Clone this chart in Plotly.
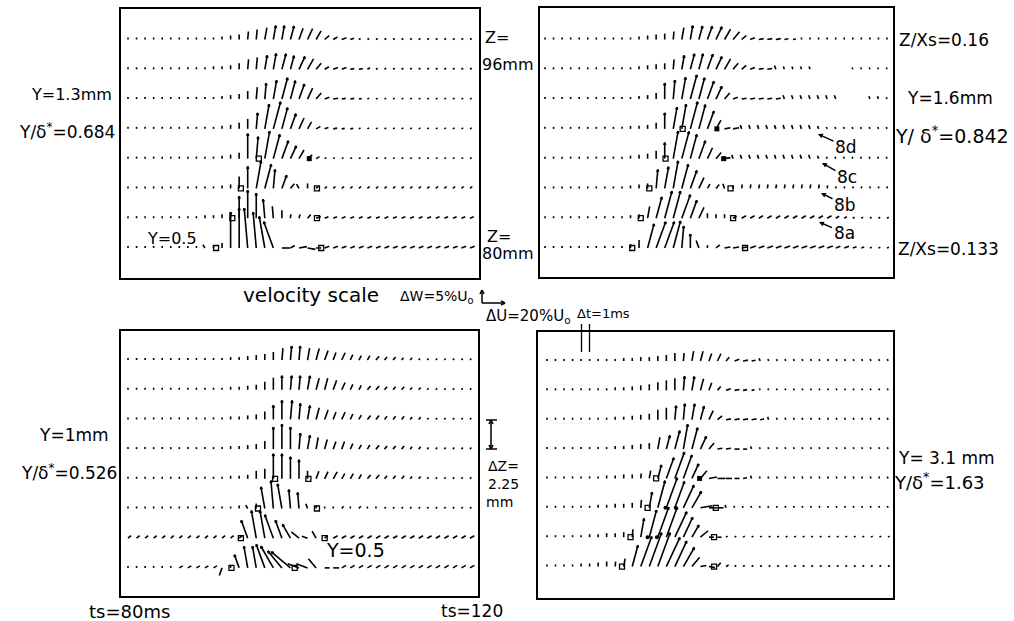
import math
import plotly.graph_objects as go

FIG_W, FIG_H = 1014, 621

# ---------------- data ----------------
TS = list(range(80, 121))                     # ts in ms, sample spacing Δt = 1 ms
Z_ROWS = [95.75, 93.5, 91.25, 89.0, 86.75, 84.5, 82.25, 80.0]   # Z (mm), top row to bottom row

# velocity scale of the figure: ΔW = 5 %U0 (vertical), ΔU = 20 %U0 (horizontal)
W_PX_PER_PCT = 13.0 / 5.0
U_PX_PER_PCT = 23.0 / 20.0

# vector magnitude classes (drawn length) and direction classes (deg from +W, positive toward +U)
LEN_CODE = {'0': 2.0, '1': 3, '2': 4, '3': 5, '4': 6, '5': 8, '6': 10, '7': 12, '8': 14, '9': 16,
            'A': 19, 'B': 22, 'C': 25, 'D': 28, 'E': 32, 'F': 36, 'G': 40}
ANG_CODE = {'a': -80, 'b': -70, 'c': -60, 'd': -50, 'e': -40, 'f': -30, 'g': -20, 'h': -10, 'i': -5,
            'j': 0, 'k': 5, 'l': 10, 'm': 15, 'n': 20, 'o': 25, 'p': 30, 'q': 40, 'r': 50, 's': 60,
            't': 70, 'u': 80, 'v': 90, 'w': 100, 'x': 110, 'X': 200}

# one string per row (41 samples, ts=80..120), '_' = no sample
TL_LEN = ["0000000000 0123567888 7764332000 0000000000 0",
          "0000000000 1124678998 8753332210 0000000000 0",
          "0000000000 0123579ABA 9753322100 0000000000 0",
          "0000000000 012469CDB9 7532211000 0000000000 0",
          "0000000000 0124CBDCA8 6420000000 0000000000 0",
          "0000000000 0127BDCA84 3311111111 1111111111 1",
          "0000000001 123BDCA752 2332222222 2222222222 2",
          "0000000002 13FGGFED53 5533333333 3333333333 3"]
TL_ANG = ["jjjjjjjjjj jjjjkklllm noprsttsss ssssssssss s",
          "jjjjjjjjjj jjjjkkllmm opqsttuuss ssssssssss s",
          "jjjjjjjjjj jjjjjkklmm noqtuuuuss ssssssssss s",
          "jjjjjjjjjj jjjjjklmmn opstuuusss ssssssssss s",
          "jjjjjjjjjj jjjjjklmno prssssssss ssssssssss s",
          "jjjjjjjjjj jjjjjlmknq fjrrrrrrrr rrrrrrrrrr r",
          "jjjjjjjjjj jjjjjjiijk mqtttttttt tttttttttt t",
          "jjjjjjjjjf jjjjiihgvs uwvttttttt tttttttttt t"]

TR_LEN = ["0000000000 0123457888 8764333321 0000000000 0",
          "0000000000 0123468999 8754333211 11____0000 0",
          "0000000000 01249ABCBA 8533333322 22222___11 0",
          "0000000000 11249BCDCA 6442222222 2210000000 0",
          "0000000000 12359DDCA7 5422222222 2210000000 0",
          "0000000000 123ABDCA73 3312222222 2221000000 0",
          "0000000000 127BDDCA73 2223333333 3333210000 0",
          "0000000000 25CDDDB851 3444444444 4444332100 0"]
TR_ANG = ["jjjjjjjjjj jjjjjkllmn opqrtuuuuu jjjjjjjjjj j",
          "jjjjjjjjjj jjjjjklmmn opqrtuuggg gggggggggg g",
          "jjjjjjjjjj jjjjjklmmn oqtuuuuugg gggggggggg g",
          "jjjjjjjjjj jjjjjllmmn puuggggggg gggggggggg g",
          "jjjjjjjjjj jjjjjlmmno qugggggggg gggggggggg g",
          "jjjjjjjjjj jjjkllmnop qgjlllllll llllllllll l",
          "jjjjjjjjjj jjlmmmnnoj jjssssssss ssssssssss s",
          "jjjjjjjjjj jjmnnmkjgj ruuutttttt tttttttttt t"]

BL_LEN = ["0000000000 0011234578 8776554333 2211000000 0",
          "0000000000 0011235788 8877654333 2221100000 0",
          "0000000000 00112358AA 9876554333 2221100000 0",
          "0000000000 0011235BCB 9876554333 2221100000 0",
          "0000000000 0011256CCB A555544333 2221100000 0",
          "0000000000 000123BDCA 9310010100 0000000000 0",
          "2222222222 2222ADDCA9 6452333333 3333333333 3",
          "0000002222 2518BBCCBC 7773433333 3333333333 3"]
BL_ANG = ["jjjjjjjjjj jjjjjjjjkk klmnnooppq qqqqqqqqqq q",
          "jjjjjjjjjj jjjjjjjjjk klmmnoopqq qqqqqqqqqq q",
          "jjjjjjjjjj jjjjjjjjjk klmnnoopqq qqqqqqqqqq q",
          "jjjjjjjjjj jjjjjjjjjj kllmnnoppq qqqqqqqqqq q",
          "jjjjjjjjjj jjjjjjjjjj jjnoppppqq qqqqqqqqqq q",
          "jjjjjjjjjj jjjjfjhihi igjjjqjqjj qqqqqqqqqq q",
          "rrrrrrrrrr rrrrghhggf dbfrssssss ssssssssss s",
          "jjjjjjssss sXjghhgfed bbevvsssss ssssssssss s"]

BR_LEN = ["0000000001 1223455665 5333210000 0000000000 0",
          "0000000011 2345678875 3332100000 0000000000 0",
          "0000000011 2346789986 4333321000 0000000000 0",
          "0000000011 23478ACB85 3332100000 0000000000 0",
          "0000000112 2358BDC965 5432100000 0000000000 0",
          "0000001122 359DEDCA75 4100000000 0000000000 0",
          "0000011223 5ADEEDB863 2000000000 0000000000 0",
          "0000112335 BEFFEDB744 3100000000 0000000000 0"]
BR_ANG = ["jjjjjjjjjj jjjjjjklmn oqtuuggggg gggggggggg g",
          "jjjjjjjjjj jjjjjjklmn qtuuuggggg gggggggggg g",
          "jjjjjjjjjj jjjjjkklmo ruuuuugggg gggggggggg g",
          "jjjjjjjjjj jjjlmmlmoq uuvvgggggg gggggggggg g",
          "jjjjjjjjjj jklmnnnoqu vvvugggggg gggggggggg g",
          "jjjjjjjjjj jklmnnopuv vggggggggg gggggggggg g",
          "jjjjjjjjjj klmnnooprv vsssssssss ssssssssss s",
          "jjjjjjjjkl mnnnoopquw qsssssssss ssssssssss s"]

# γ = 0.5 markers: (ts, row index)
TL_SQ = [(95.3, 4), (93.2, 5), (102.1, 5), (92.2, 6), (102.1, 6), (90.3, 7), (102.6, 7)]
TL_SQF = [(101.2, 4)]
TR_SQ = [(96.1, 3), (94.1, 4), (92.2, 5), (101.7, 5), (91.2, 6), (102.0, 6), (90.2, 7), (103.4, 7)]
TR_SQF = [(100.1, 3), (100.9, 4)]
BL_SQ = [(97.2, 4), (101.1, 4), (95.2, 5), (102.1, 5), (93.2, 6), (103.0, 6), (92.1, 7), (99.5, 7)]
BL_SQF = []
BR_SQ = [(92.8, 4), (91.8, 5), (99.8, 5), (89.8, 6), (99.6, 6), (88.8, 7), (99.6, 7)]
BR_SQF = [(97.9, 4)]
BR_DOTS = [(93.9, 5), (95.1, 5), (91.8, 6), (92.9, 6)]

# ---------------- layout of the four panels (pixel boxes) ----------------
PANELS = [
    dict(name='TL', box=(121, 479, 9, 278), xr=(79.181, 121.053), yr=(77.734, 98.054),
         L=TL_LEN, A=TL_ANG, sq=TL_SQ, sqf=TL_SQF, dots=[]),
    dict(name='TR', box=(540, 893, 8, 277), xr=(79.415, 120.702), yr=(77.81, 98.13),
         L=TR_LEN, A=TR_ANG, sq=TR_SQ, sqf=TR_SQF, dots=[]),
    dict(name='BL', box=(121, 478, 331, 596), xr=(79.181, 120.936), yr=(77.87, 97.95),
         L=BL_LEN, A=BL_ANG, sq=BL_SQ, sqf=BL_SQF, dots=[]),
    dict(name='BR', box=(538, 893, 332, 598), xr=(78.947, 120.585), yr=(77.59, 97.97),
         L=BR_LEN, A=BR_ANG, sq=BR_SQ, sqf=BR_SQF, dots=BR_DOTS),
]

fig = go.Figure()
layout_axes = {}

for k, p in enumerate(PANELS):
    x0, x1, y0, y1 = p['box']
    ppt = (x1 - x0) / (p['xr'][1] - p['xr'][0])      # px per ms
    ppz = (y1 - y0) / (p['yr'][1] - p['yr'][0])      # px per mm
    xa = 'x' if k == 0 else 'x%d' % (k + 1)
    ya = 'y' if k == 0 else 'y%d' % (k + 1)
    xs, ys = [], []
    for r, (ls, as_) in enumerate(zip(p['L'], p['A'])):
        ls = ls.replace(' ', '')
        as_ = as_.replace(' ', '')
        z = Z_ROWS[r]
        for i, (lc, ac) in enumerate(zip(ls, as_)):
            if lc == '_':
                continue
            mag = LEN_CODE[lc]
            th = math.radians(ANG_CODE[ac])
            u = mag * math.sin(th) / U_PX_PER_PCT      # %U0
            w = mag * math.cos(th) / W_PX_PER_PCT      # %U0
            t = TS[i]
            dxp = u * U_PX_PER_PCT
            dzp = w * W_PX_PER_PCT
            tt = t + dxp / ppt
            tz = z + dzp / ppz
            xs += [t, tt, None]
            ys += [z, tz, None]
            if mag >= 14:
                bx, bz = -dxp / mag, -dzp / mag
                for s in (1, -1):
                    a = math.radians(22) * s
                    rx = bx * math.cos(a) - bz * math.sin(a)
                    rz = bx * math.sin(a) + bz * math.cos(a)
                    xs += [tt, tt + 2.6 * rx / ppt, None]
                    ys += [tz, tz + 2.6 * rz / ppz, None]
    fig.add_trace(go.Scatter(x=xs, y=ys, mode='lines', xaxis=xa, yaxis=ya,
                             line=dict(color='black', width=1.6), hoverinfo='skip'))
    if p['sq']:
        fig.add_trace(go.Scatter(x=[s[0] for s in p['sq']], y=[Z_ROWS[s[1]] for s in p['sq']],
                                 mode='markers', xaxis=xa, yaxis=ya, hoverinfo='skip',
                                 marker=dict(symbol='square-open', size=5, color='black',
                                             line=dict(width=1.3, color='black'))))
    if p['sqf']:
        fig.add_trace(go.Scatter(x=[s[0] for s in p['sqf']], y=[Z_ROWS[s[1]] for s in p['sqf']],
                                 mode='markers', xaxis=xa, yaxis=ya, hoverinfo='skip',
                                 marker=dict(symbol='square', size=5, color='black')))
    if p['dots']:
        fig.add_trace(go.Scatter(x=[s[0] for s in p['dots']], y=[Z_ROWS[s[1]] for s in p['dots']],
                                 mode='markers', xaxis=xa, yaxis=ya, hoverinfo='skip',
                                 marker=dict(symbol='circle', size=4, color='black')))
    axcommon = dict(showgrid=False, zeroline=False, showticklabels=False, ticks='',
                    showline=True, mirror=True, linecolor='black', linewidth=1.6, fixedrange=True)
    layout_axes['xaxis' if k == 0 else 'xaxis%d' % (k + 1)] = dict(
        domain=[x0 / FIG_W, x1 / FIG_W], range=list(p['xr']), anchor=ya, **axcommon)
    layout_axes['yaxis' if k == 0 else 'yaxis%d' % (k + 1)] = dict(
        domain=[1 - y1 / FIG_H, 1 - y0 / FIG_H], range=list(p['yr']), anchor=xa, **axcommon)

FONT = "DejaVu Sans"


def px(x, y):
    return x / FIG_W, 1 - y / FIG_H


annotations = []


def label(text, cx, cy, size=16):
    X, Y = px(cx, cy)
    annotations.append(dict(text=text, x=X, y=Y, xref='paper', yref='paper', showarrow=False,
                            xanchor='center', yanchor='middle',
                            font=dict(family=FONT, size=size, color='black')))


label("Y=1.3mm", 71, 94, 16)
label("Y/δ<sup>*</sup>=0.684", 67, 131, 17)
label("Υ=0.5", 172, 239, 16)
label("Z=", 497, 37, 16)
label("96mm", 508, 64, 16)
label("Z=", 499, 236, 16)
label("80mm", 508, 253, 16)
label("Z/Xs=0.16", 944, 40, 17)
label("Y=1.6mm", 950, 98, 17)
label("Y/ δ<sup>*</sup>=0.842", 952, 135, 19)
label("Z/Xs=0.133", 948, 249, 17)
label("velocity scale", 311, 295, 20)
label("ΔW=5%U<sub>o</sub>", 437, 297, 14)
label("ΔU=20%U<sub>o</sub>", 528, 316, 15)
label("Δt=1ms", 603, 313, 13)
label("Y=1mm", 74, 435, 17)
label("Y/δ<sup>*</sup>=0.526", 69, 472, 17)
label("ts=80ms", 129, 611, 18)
label("ts=120", 472, 611, 17)
label("ΔZ=", 503, 466, 14)
label("2.25", 503, 484, 14)
label("mm", 499, 502, 14)
label("Υ=0.5", 355, 550, 19)
label("Y= 3.1 mm", 946, 458, 17)
label("Y/δ<sup>*</sup>=1.63", 939, 481, 18)

# curved-arrow callouts 8a..8d (drawn straight)
for txt, (tx, ty), (hx, hy) in [("8d", (846, 147), (818, 134)), ("8c", (847, 177), (822, 163)),
                                 ("8b", (845, 205), (821, 193)), ("8a", (844, 233), (819, 222))]:
    X, Y = px(hx, hy)
    annotations.append(dict(text=txt, x=X, y=Y, xref='paper', yref='paper', showarrow=True,
                            ax=tx - hx, ay=ty - hy, arrowhead=2, arrowsize=0.7, arrowwidth=1.4,
                            arrowcolor='black', standoff=0,
                            font=dict(family=FONT, size=17, color='black')))

shapes = []


def seg(xa, ya, xb, yb, w=1.5):
    A = px(xa, ya)
    B = px(xb, yb)
    shapes.append(dict(type='line', xref='paper', yref='paper', x0=A[0], y0=A[1], x1=B[0], y1=B[1],
                       line=dict(color='black', width=w)))


# velocity scale glyph
seg(482, 290, 482, 303)
seg(482, 303, 505, 303)
seg(482, 290, 480, 294)
seg(482, 290, 484, 294)
seg(505, 303, 501, 301)
seg(505, 303, 501, 305)
# ΔZ bracket
seg(491, 420, 491, 449)
seg(486, 420, 497, 420)
seg(486, 449, 497, 449)
seg(491, 420, 489, 424)
seg(491, 420, 493, 424)
seg(491, 449, 489, 445)
seg(491, 449, 493, 445)
# Δt = 1 ms bars
seg(581.5, 324, 581.5, 352, 1.3)
seg(589.5, 324, 589.5, 352, 1.3)

fig.update_layout(width=FIG_W, height=FIG_H, margin=dict(l=0, r=0, t=0, b=0),
                  paper_bgcolor='white', plot_bgcolor='white', showlegend=False,
                  annotations=annotations, shapes=shapes, **layout_axes)

fig.write_html("out.html")
